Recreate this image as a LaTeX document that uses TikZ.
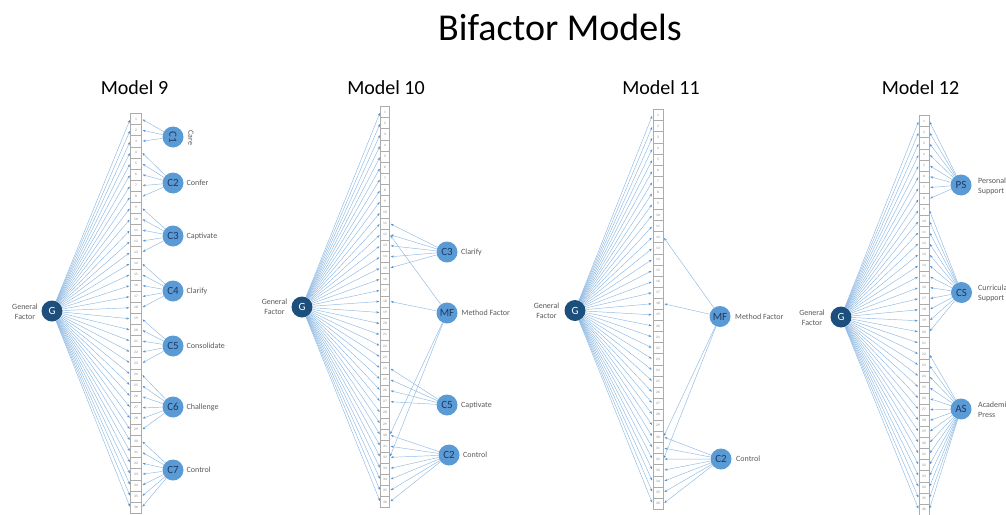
\documentclass[tikz,border=0pt]{standalone}
\usepackage{fontspec}
\setmainfont{Carlito}
\usetikzlibrary{arrows.meta}
\definecolor{gnavy}{HTML}{1D4F7C}
\definecolor{fblue}{HTML}{5B9BD5}
\definecolor{ftext}{HTML}{1F3864}
\definecolor{lnblue}{HTML}{8DB8E2}
\definecolor{arblue}{HTML}{4F8FCF}
\definecolor{lblgray}{HTML}{595959}
\newcommand\itemcolumn[6]{% prefix, x, y of first, count, spacing, width
  \foreach \i in {1,...,#4}{%
    \node[itembox, minimum width=#6] (#1\i) at (#2,{#3+(\i-1)*#5}) {\i};}}
\begin{document}
\begin{tikzpicture}[x=1pt,y=-1pt,
  itembox/.style={draw=gray!65, fill=white, line width=0.5pt, minimum height=11.1pt,
    inner sep=0pt, font=\fontsize{3.5}{3.5}\selectfont, text=gray},
  gfac/.style={circle, fill=gnavy, minimum size=21pt, inner sep=0pt, text=white,
    font=\fontsize{11}{11}\selectfont},
  sfac/.style={circle, fill=fblue, minimum size=21pt, inner sep=0pt, text=ftext,
    font=\fontsize{11}{11}\selectfont},
  flabel/.style={text=lblgray, font=\fontsize{8}{10}\selectfont, anchor=west,
    inner sep=0pt, align=left},
  glabel/.style={text=lblgray, font=\fontsize{8}{10}\selectfont, align=center, inner sep=0pt},
  load/.style={draw=lnblue, line width=0.45pt,
    -{Stealth[length=3pt,width=2.2pt,color=arblue]}, shorten >=1pt},
  modeltitle/.style={font=\fontsize{20}{20}\selectfont, anchor=base, inner sep=0pt},
  maintitle/.style={font=\fontsize{38}{38}\selectfont, anchor=base, inner sep=0pt}]
\useasboundingbox (0,0) rectangle (1006,514);
\clip (0,0) rectangle (1006,514);

\node[maintitle] (title) at (560,40) {Bifactor Models};
\node[modeltitle] (t9) at (134.5,94) {Model 9};
\node[modeltitle] (t10) at (386,94) {Model 10};
\node[modeltitle] (t11) at (661,94) {Model 11};
\node[modeltitle] (t12) at (920.5,94) {Model 12};

% ---------------- Model 9 ----------------
\itemcolumn{ia}{136}{119}{36}{11.1}{11pt}
\node[gfac] (Ga) at (52,311) {G};
\node[glabel] (Gla) at (25,312) {General\\Factor};
\node[sfac, rotate=-90] (Ca1) at (173,137) {C1};
\node[text=lblgray, font=\fontsize{8}{10}\selectfont, rotate=-90, inner sep=0pt] (La1) at (191,138) {Care};
\node[sfac] (Ca2) at (173,183) {C2};
\node[flabel] (La2) at (186.5,183) {Confer};
\node[sfac] (Ca3) at (173,236) {C3};
\node[flabel] (La3) at (186.5,236) {Captivate};
\node[sfac] (Ca4) at (173,291) {C4};
\node[flabel] (La4) at (186.5,291) {Clarify};
\node[sfac] (Ca5) at (173,346) {C5};
\node[flabel] (La5) at (186.5,346) {Consolidate};
\node[sfac] (Ca6) at (173,407) {C6};
\node[flabel] (La6) at (186.5,407) {Challenge};
\node[sfac] (Ca7) at (173,470) {C7};
\node[flabel] (La7) at (186.5,470) {Control};
\foreach \i in {1,...,36}{\draw[load] (Ga) -- (ia\i.west);}
\foreach \i in {1,...,3}{\draw[load] (Ca1) -- (ia\i.east);}
\foreach \i in {4,...,8}{\draw[load] (Ca2) -- (ia\i.east);}
\foreach \i in {9,...,13}{\draw[load] (Ca3) -- (ia\i.east);}
\foreach \i in {14,...,18}{\draw[load] (Ca4) -- (ia\i.east);}
\foreach \i in {19,...,23}{\draw[load] (Ca5) -- (ia\i.east);}
\foreach \i in {24,...,29}{\draw[load] (Ca6) -- (ia\i.east);}
\foreach \i in {30,...,36}{\draw[load] (Ca7) -- (ia\i.east);}

% ---------------- Model 10 ----------------
\itemcolumn{ib}{385}{112}{36}{11.14}{9pt}
\node[gfac] (Gb) at (302,307) {G};
\node[glabel] (Glb) at (274.5,307) {General\\Factor};
\node[sfac] (Cb3) at (447,252) {C3};
\node[flabel] (Lb3) at (461,252) {Clarify};
\node[sfac] (MFb) at (447,313) {MF};
\node[flabel] (LbM) at (461.5,313) {Method Factor};
\node[sfac] (Cb5) at (447,405) {C5};
\node[flabel] (Lb5) at (461,405) {Captivate};
\node[sfac] (Cb2) at (449,455) {C2};
\node[flabel] (Lb2) at (463,455) {Control};
\foreach \i in {1,...,36}{\draw[load] (Gb) -- (ib\i.west);}
\foreach \i in {11,...,15}{\draw[load] (Cb3) -- (ib\i.east);}
\foreach \i in {12,18,30,32}{\draw[load] (MFb) -- (ib\i.east);}
\foreach \i in {24,...,27}{\draw[load] (Cb5) -- (ib\i.east);}
\foreach \i in {30,...,36}{\draw[load] (Cb2) -- (ib\i.east);}

% ---------------- Model 11 ----------------
\itemcolumn{ic}{658}{115}{36}{11.1}{10.5pt}
\node[gfac] (Gc) at (575,310.5) {G};
\node[glabel] (Glc) at (546.5,310.5) {General\\Factor};
\node[sfac] (MFc) at (720,316.5) {MF};
\node[flabel] (LcM) at (735,316.5) {Method Factor};
\node[sfac] (Cc2) at (721,459) {C2};
\node[flabel] (Lc2) at (736,459) {Control};
\foreach \i in {1,...,36}{\draw[load] (Gc) -- (ic\i.west);}
\foreach \i in {12,18,30,32}{\draw[load] (MFc) -- (ic\i.east);}
\foreach \i in {30,...,36}{\draw[load] (Cc2) -- (ic\i.east);}

% ---------------- Model 12 ----------------
\itemcolumn{id}{924}{121}{36}{11.1}{10pt}
\node[gfac] (Gd) at (841,317) {G};
\node[glabel] (Gld) at (812,318) {General\\Factor};
\node[sfac] (PSd) at (961,185) {PS};
\node[flabel] (LdP) at (978,186) {Personal\\Support};
\node[sfac] (CSd) at (961.5,292.5) {CS};
\node[flabel] (LdC) at (978,293) {Curricular\\Support};
\node[sfac] (ASd) at (961,409) {AS};
\node[flabel] (LdA) at (978,410) {Academic\\Press};
\foreach \i in {1,...,36}{\draw[load] (Gd) -- (id\i.west);}
\foreach \i in {1,...,8}{\draw[load] (PSd) -- (id\i.east);}
\foreach \i in {9,...,20}{\draw[load] (CSd) -- (id\i.east);}
\foreach \i in {22,...,36}{\draw[load] (ASd) -- (id\i.east);}
\end{tikzpicture}
\end{document}
